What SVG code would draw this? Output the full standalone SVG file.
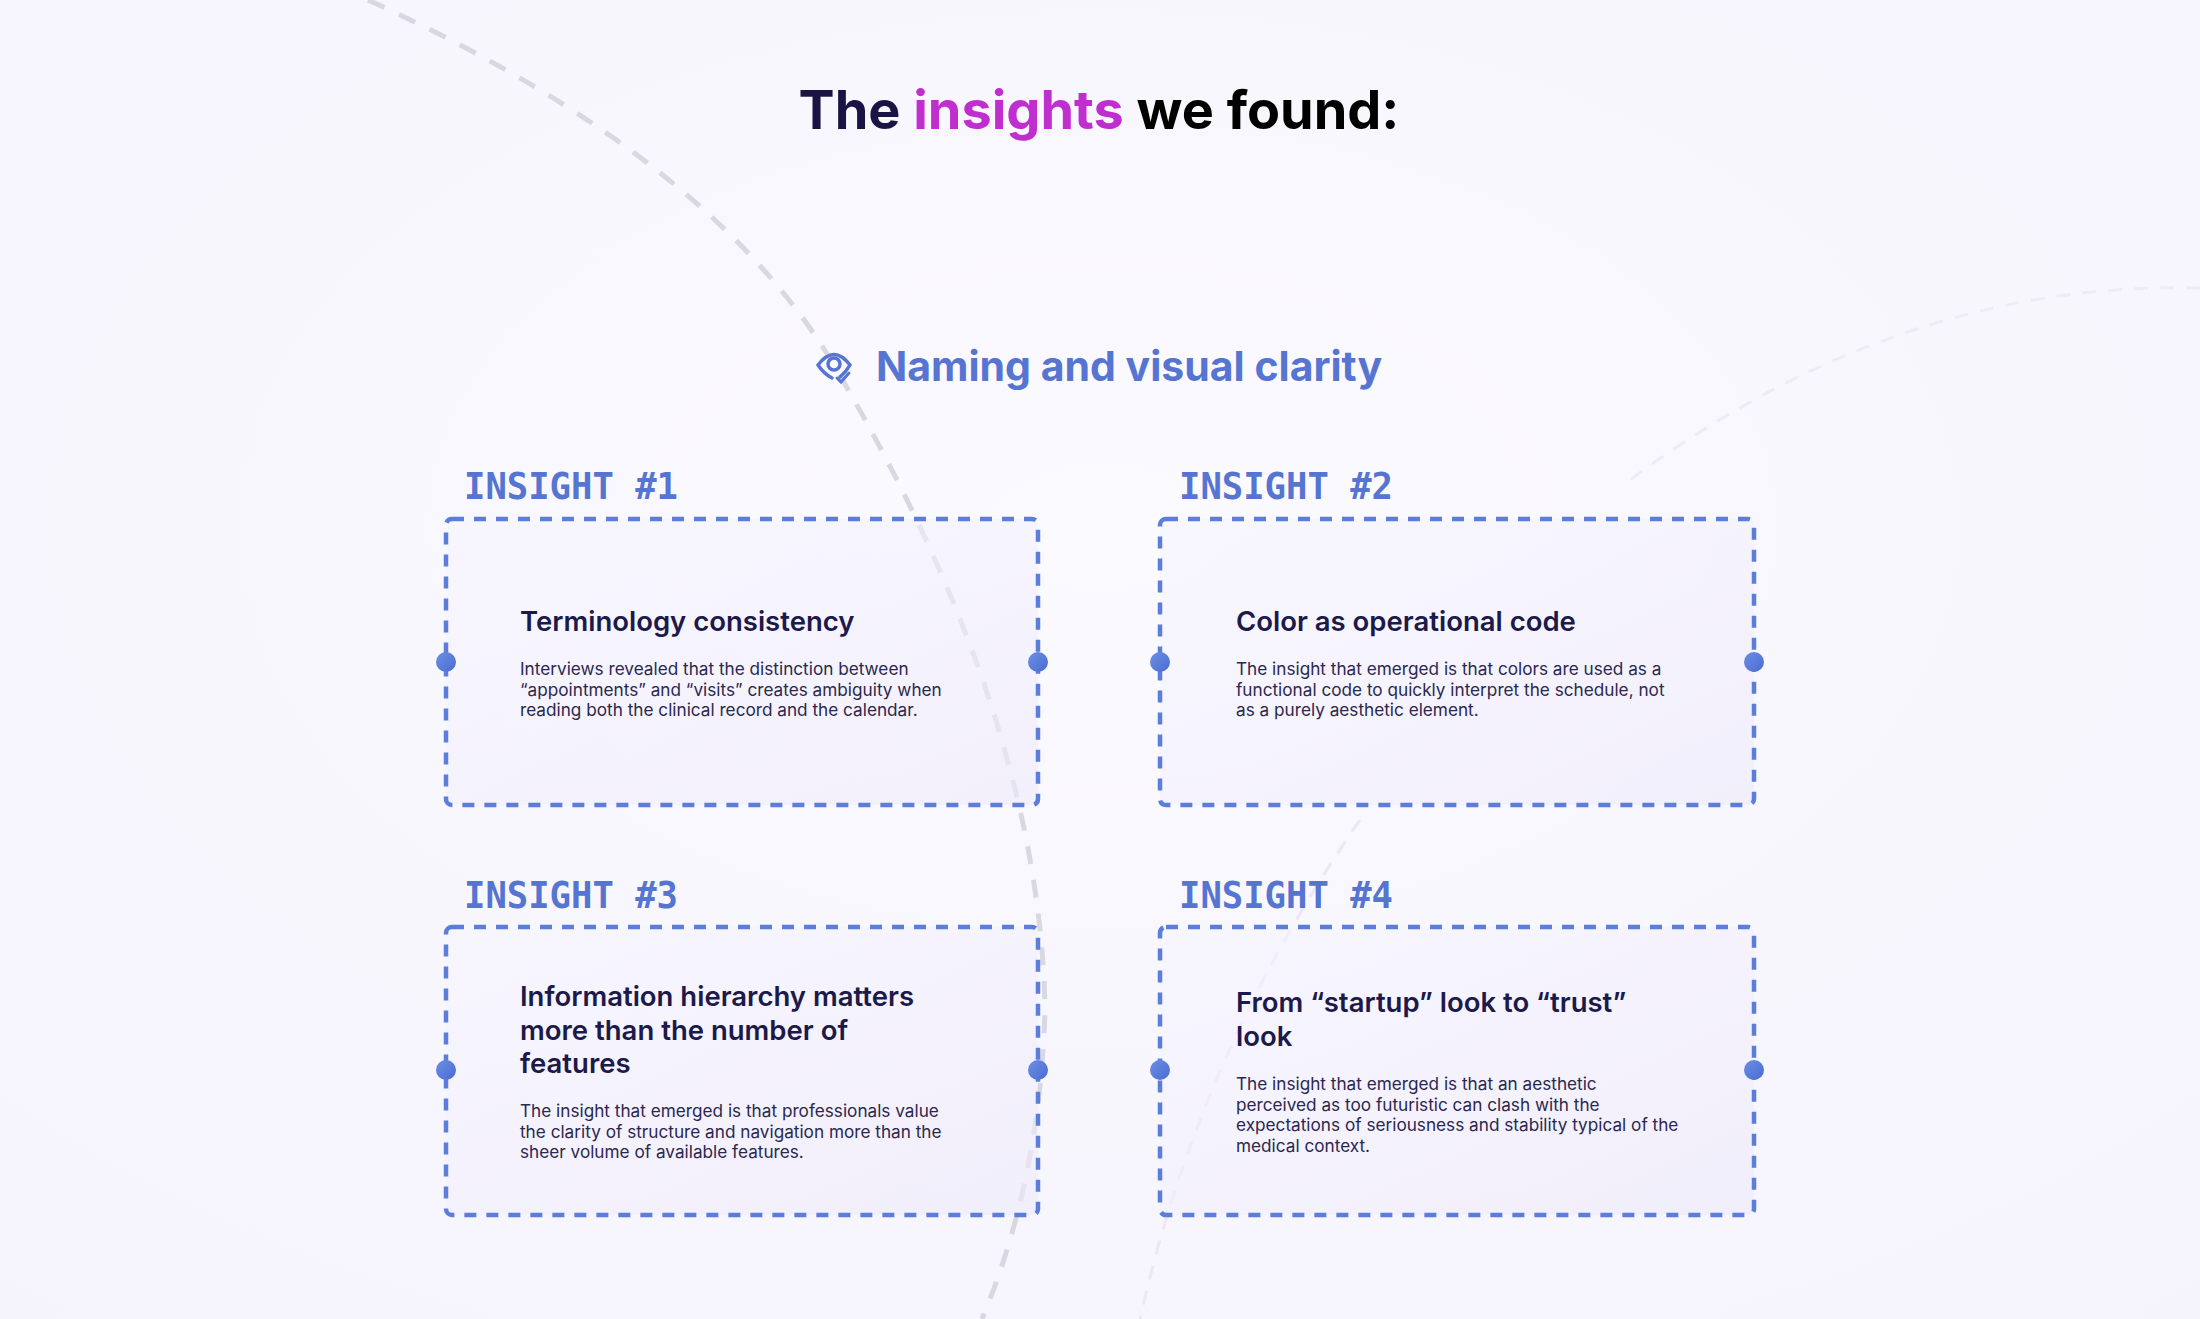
<svg xmlns="http://www.w3.org/2000/svg" width="2200" height="1319" viewBox="0 0 2200 1319">
<defs>
<radialGradient id="bg" cx="0.5" cy="0.4" r="0.8"><stop offset="0" stop-color="#fbfaff"/><stop offset="1" stop-color="#f5f3fc"/></radialGradient>
<linearGradient id="card" x1="0" y1="0" x2="1" y2="1"><stop offset="0" stop-color="#f6f4fe" stop-opacity="0.5"/><stop offset="1" stop-color="#eeeafb" stop-opacity="0.6"/></linearGradient>
<linearGradient id="dot" x1="0" y1="0" x2="1" y2="1"><stop offset="0" stop-color="#6b8fe6"/><stop offset="1" stop-color="#4a6bd0"/></linearGradient>
<style>
.box{fill:url(#card);stroke:#5b7ed8;stroke-width:4.5;stroke-dasharray:12 10}
.dot{fill:url(#dot)}
.lab{font-family:"DejaVu Sans Mono","Liberation Mono",monospace;font-weight:bold;font-size:38px;fill:#5674d2}
.ttl{font-family:Inter,"Noto Sans",sans-serif;font-weight:600;font-size:27.5px;fill:#1c1a4a}
.body{font-family:Inter,"Noto Sans",sans-serif;font-size:17.2px;fill:#2a2850}
</style>
</defs>
<rect width="2200" height="1319" fill="url(#bg)"/>
<g id="connectors" fill="none">
<path d="M368,0 Q720,160 842,379 Q1040,720 1045,1010 Q1040,1180 982,1319" stroke="#d9d8e2" stroke-width="5" stroke-dasharray="18 16"/>
<path d="M2200,288 Q1900,280 1630,480" stroke="#eeebf6" stroke-width="3" stroke-dasharray="14 12"/>
<path d="M1360,820 Q1200,1050 1140,1319" stroke="#efe6f3" stroke-width="3" stroke-dasharray="14 12"/>
</g>
<g id="title"><text x="1099" y="129" text-anchor="middle" font-family="Inter,'Noto Sans',sans-serif" font-weight="bold" font-size="54" fill="#000">
<tspan fill="#1a1445">The </tspan><tspan fill="#c02ed0">insights</tspan><tspan> we found:</tspan></text></g>
<g id="subheading">
<circle cx="834" cy="364" r="6" fill="none" stroke="#5674d2" stroke-width="3.5"/>
<path d="M818,365 Q834,344 850,365 Q846,372 840,377 M818,365 Q824,374 832,378" fill="none" stroke="#5674d2" stroke-width="3.5" stroke-linecap="round"/>
<path d="M837,378 l4,4 l8,-9" fill="none" stroke="#5674d2" stroke-width="3" stroke-linecap="round"/>
<text x="876" y="381" font-family="Inter,'Noto Sans',sans-serif" font-weight="bold" font-size="41" fill="#5674d2">Naming and visual clarity</text>
</g>
<g id="insight1">
<text class="lab" x="464" y="499" textLength="214" lengthAdjust="spacingAndGlyphs">INSIGHT #1</text>
<rect class="box" x="446" y="519" width="592" height="286" rx="6"/>
<circle class="dot" cx="446" cy="662" r="10"/><circle class="dot" cx="1038" cy="662" r="10"/>
<text class="ttl" x="520" y="631">Terminology consistency</text>
<text class="body" x="520" y="675">Interviews revealed that the distinction between<tspan x="520" dy="20.5">“appointments” and “visits” creates ambiguity when</tspan><tspan x="520" dy="20.5">reading both the clinical record and the calendar.</tspan></text>
</g>
<g id="insight2">
<text class="lab" x="1179" y="499" textLength="214" lengthAdjust="spacingAndGlyphs">INSIGHT #2</text>
<rect class="box" x="1160" y="519" width="594" height="286" rx="6"/>
<circle class="dot" cx="1160" cy="662" r="10"/><circle class="dot" cx="1754" cy="662" r="10"/>
<text class="ttl" x="1236" y="631">Color as operational code</text>
<text class="body" x="1236" y="675">The insight that emerged is that colors are used as a<tspan x="1236" dy="20.5">functional code to quickly interpret the schedule, not</tspan><tspan x="1236" dy="20.5">as a purely aesthetic element.</tspan></text>
</g>
<g id="insight3">
<text class="lab" x="464" y="908" textLength="214" lengthAdjust="spacingAndGlyphs">INSIGHT #3</text>
<rect class="box" x="446" y="927" width="592" height="288" rx="6"/>
<circle class="dot" cx="446" cy="1070" r="10"/><circle class="dot" cx="1038" cy="1070" r="10"/>
<text class="ttl" x="520" y="1006">Information hierarchy matters<tspan x="520" dy="33.5">more than the number of</tspan><tspan x="520" dy="33.5">features</tspan></text>
<text class="body" x="520" y="1117">The insight that emerged is that professionals value<tspan x="520" dy="20.5">the clarity of structure and navigation more than the</tspan><tspan x="520" dy="20.5">sheer volume of available features.</tspan></text>
</g>
<g id="insight4">
<text class="lab" x="1179" y="908" textLength="214" lengthAdjust="spacingAndGlyphs">INSIGHT #4</text>
<rect class="box" x="1160" y="927" width="594" height="288" rx="6"/>
<circle class="dot" cx="1160" cy="1070" r="10"/><circle class="dot" cx="1754" cy="1070" r="10"/>
<text class="ttl" x="1236" y="1012">From “startup” look to “trust”<tspan x="1236" dy="33.5">look</tspan></text>
<text class="body" x="1236" y="1090">The insight that emerged is that an aesthetic<tspan x="1236" dy="20.5">perceived as too futuristic can clash with the</tspan><tspan x="1236" dy="20.5">expectations of seriousness and stability typical of the</tspan><tspan x="1236" dy="20.5">medical context.</tspan></text>
</g>
</svg>
